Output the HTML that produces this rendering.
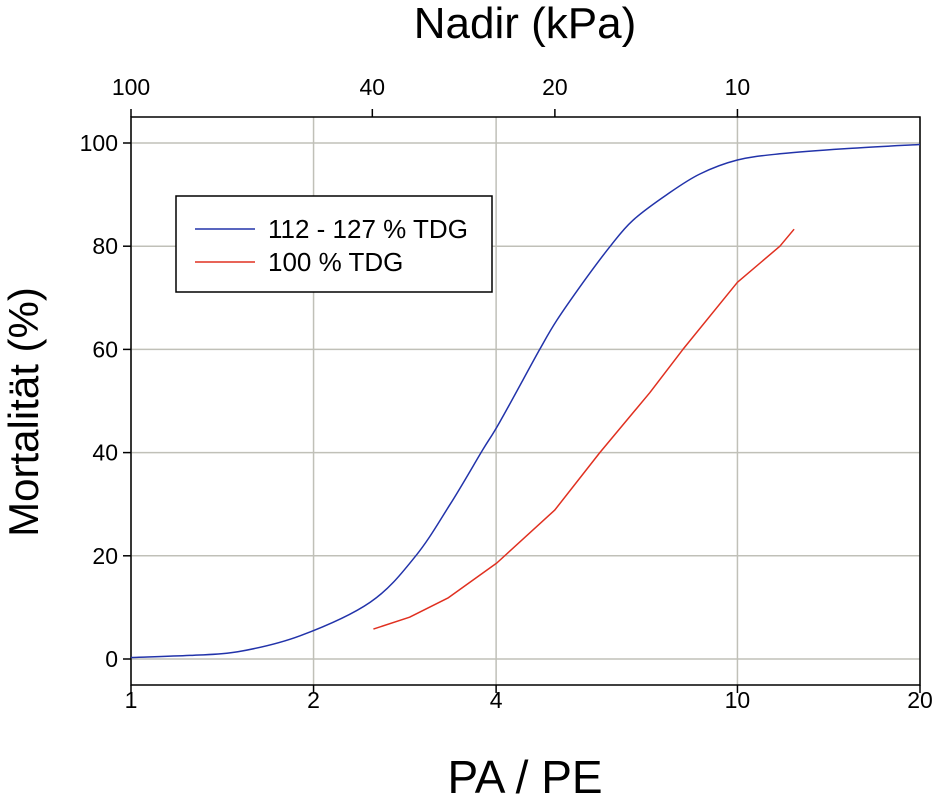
<!DOCTYPE html>
<html><head><meta charset="utf-8"><style>
html,body{margin:0;padding:0;background:#fff;}
svg{display:block;font-family:"Liberation Sans",Arial,sans-serif;}
</style></head><body>
<svg id="chart" width="938" height="801" viewBox="0 0 938 801"></svg>
<script>
const xTicks=[1,2,4,10,20];
const yTicks=[0,20,40,60,80,100];
const topTicks=[100,40,20,10];
const blueX=[1,1.25,1.5,1.9,2.48,2.94,3.36,3.8,4.06,4.72,5.04,5.56,6.17,6.72,7.65,8.67,10,11.75,15,20];
const blueY=[0.3,0.7,1.4,4.5,11,19.8,30,40.5,46,60,65.7,72.9,80,85,90,94,96.7,97.9,98.9,99.7];
const redX=[2.51,2.88,3.33,4.01,5.0,5.93,7.17,8.13,10,11.75,12.4];
const redY=[5.8,8.1,11.8,18.6,28.9,40,51.6,60,73,80,83.3];
const NS="http://www.w3.org/2000/svg";
const svg=document.getElementById('chart');
const L=131,R=920,T=117,B=685;
const dec=(R-L)/Math.log10(20);
function xs(v){return L+Math.log10(v)*dec;}
function ys(v){return 659-v*5.16;}
function mk(tag,attrs,txt){const e=document.createElementNS(NS,tag);for(const k in attrs)e.setAttribute(k,attrs[k]);if(txt!==undefined)e.textContent=txt;svg.appendChild(e);return e;}
xTicks.forEach(v=>{const e=mk('line',{x1:xs(v),x2:xs(v),y1:T,y2:B,stroke:'#c0c0b8','stroke-width':1.5});

});
yTicks.forEach(v=>{const e=mk('line',{x1:L,x2:R,y1:ys(v),y2:ys(v),stroke:'#c0c0b8','stroke-width':1.5});

});
const fr=mk('rect',{x:L,y:T,width:R-L,height:B-T,fill:'none',stroke:'#000','stroke-width':1.5});


xTicks.forEach(v=>{mk('line',{x1:xs(v),x2:xs(v),y1:B,y2:B+8,stroke:'#000','stroke-width':1.5});
const t=mk('text',{x:xs(v),y:B+23,'font-size':23,'text-anchor':'middle'},String(v));

});
topTicks.forEach(v=>{mk('line',{x1:xs(100/v),x2:xs(100/v),y1:T,y2:T-8,stroke:'#000','stroke-width':1.5});
const t=mk('text',{x:xs(100/v),y:T-22,'font-size':23,'text-anchor':'middle'},String(v));

});
yTicks.forEach(v=>{mk('line',{x1:L,x2:L-8,y1:ys(v),y2:ys(v),stroke:'#000','stroke-width':1.5});
const t=mk('text',{x:L-13,y:ys(v)+8,'font-size':23,'text-anchor':'end'},String(v));

});
function smoothPath(xa,ya){const p=xa.map((x,i)=>[xs(x),ys(ya[i])]);let d='M'+p[0][0].toFixed(1)+','+p[0][1].toFixed(1);
for(let i=0;i<p.length-1;i++){const p0=p[Math.max(0,i-1)],p1=p[i],p2=p[i+1],p3=p[Math.min(p.length-1,i+2)];
const c1=[p1[0]+(p2[0]-p0[0])/6,p1[1]+(p2[1]-p0[1])/6],c2=[p2[0]-(p3[0]-p1[0])/6,p2[1]-(p3[1]-p1[1])/6];
d+=' C'+c1[0].toFixed(1)+','+c1[1].toFixed(1)+' '+c2[0].toFixed(1)+','+c2[1].toFixed(1)+' '+p2[0].toFixed(1)+','+p2[1].toFixed(1);}
return d;}
function linePath(xa,ya){return xa.map((x,i)=>(i?'L':'M')+xs(x).toFixed(1)+','+ys(ya[i]).toFixed(1)).join(' ');}
const pb=mk('path',{d:smoothPath(blueX,blueY),fill:'none',stroke:'#2233aa','stroke-width':1.5});


const pr=mk('path',{d:linePath(redX,redY),fill:'none',stroke:'#e03020','stroke-width':1.5,'stroke-linejoin':'round'});


const xt=mk('text',{x:525,y:793,'font-size':46,'text-anchor':'middle'},'PA / PE');


const tt=mk('text',{x:525,y:38,'font-size':44,'text-anchor':'middle'},'Nadir (kPa)');


const yt=mk('text',{x:0,y:0,'font-size':42,'text-anchor':'middle',transform:'translate(38,412) rotate(-90)'},'Mortalität (%)');


const lg=mk('rect',{x:176,y:196,width:316,height:96,fill:'#fff',stroke:'#000','stroke-width':1.5});


[['112 - 127 % TDG','#2233aa',229],['100 % TDG','#e03020',262]].forEach(([lab,c,y])=>{
mk('line',{x1:195,x2:255,y1:y,y2:y,stroke:c,'stroke-width':1.5});
const t=mk('text',{x:268,y:y+9,'font-size':26},lab);

});
</script>
</body></html>
